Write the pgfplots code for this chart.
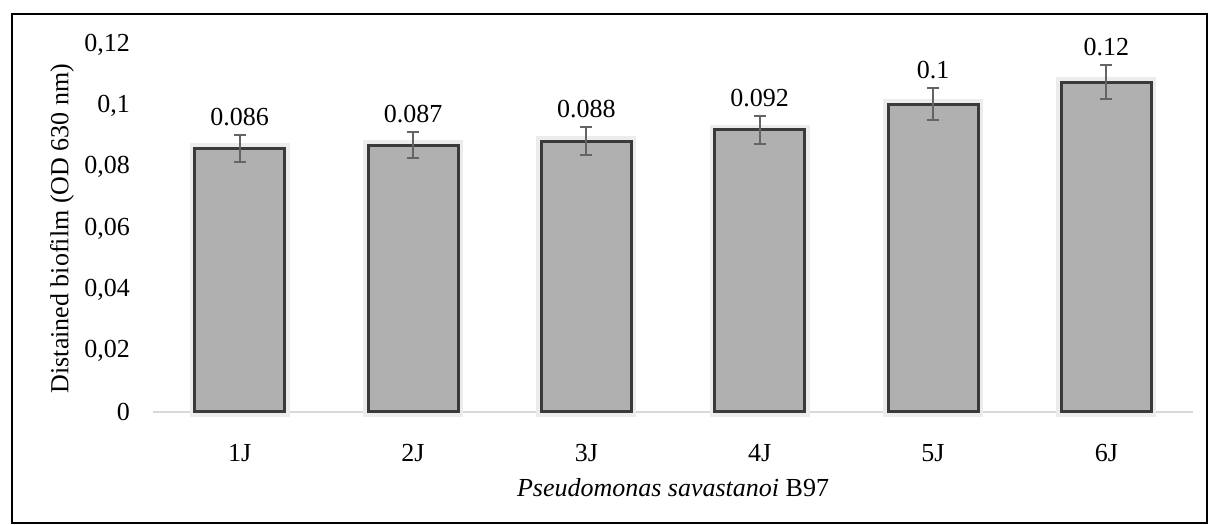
\documentclass[border=0pt]{standalone}
\usepackage{fontspec}
\setmainfont{Liberation Serif}
\usepackage{pgfplots}
\usepackage{pgfplotstable}
\pgfplotsset{compat=1.18}
\definecolor{barfill}{RGB}{176,176,176}
\definecolor{barline}{RGB}{58,58,58}
\definecolor{errcol}{RGB}{100,100,100}
\definecolor{axiscol}{RGB}{217,217,217}
\definecolor{halo}{RGB}{236,236,236}
\pgfplotstableread{
x y err lab
0 0.0863 0.0044 0.086
1 0.0873 0.0044 0.087
2 0.0885 0.0046 0.088
3 0.0923 0.0046 0.092
4 0.1007 0.0051 0.1
5 0.1079 0.0056 0.12
}\datatab
\begin{document}
\begin{tikzpicture}[font=\fontsize{13}{15}\selectfont]
\useasboundingbox (0,0) rectangle (604pt,262pt);
\draw[black, line width=1pt] (6pt,0.5pt) rectangle (603.5pt,255pt);
\begin{axis}[
  at={(76.5pt,56pt)}, anchor=south west,
  scale only axis, width=520pt, height=183.5pt,
  xmin=-0.5, xmax=5.5, ymin=0, ymax=0.12,
  xtick={0,1,2,3,4,5}, xticklabels={1J,2J,3J,4J,5J,6J},
  ytick={0,0.02,0.04,0.06,0.08,0.1,0.12},
  /pgf/number format/.cd, use comma, fixed, assume math mode=true, /pgfplots/.cd,
  axis x line*=bottom, axis y line*=left,
  x axis line style={draw=axiscol, line width=1.2pt, -},
  y axis line style={draw=none},
  major tick length=0pt,
  yticklabel style={xshift=-8pt},
  xticklabel style={yshift=-12.5pt},
  xlabel={\textit{Pseudomonas savastanoi} B97},
  ylabel={Distained biofilm (OD 630 nm)},
  xlabel style={at={(axis description cs:0.5,-0.207)}, anchor=center},
  ylabel style={at={(axis description cs:-0.0875,0.5)}, anchor=center},
  clip=false,
]
\addplot[ybar, bar width=45pt, fill=none, draw=halo, line width=5pt]
  table[x=x, y=y] {\datatab};
\addplot[ybar, bar width=45pt, fill=barfill, draw=barline, line width=1.5pt,
  error bars/.cd, y dir=both, y explicit,
  error bar style={draw=errcol, line width=1pt},
  error mark options={rotate=90, mark size=3pt, draw=errcol, line width=1pt}]
  table[x=x, y=y, y error=err] {\datatab};
\addplot[draw=none, mark=none,
  nodes near coords, point meta=explicit symbolic,
  nodes near coords style={anchor=south, yshift=1pt, font=\fontsize{13}{15}\selectfont}]
  table[x=x, y expr=\thisrow{y}+\thisrow{err}, meta=lab] {\datatab};
\end{axis}
\end{tikzpicture}
\end{document}
